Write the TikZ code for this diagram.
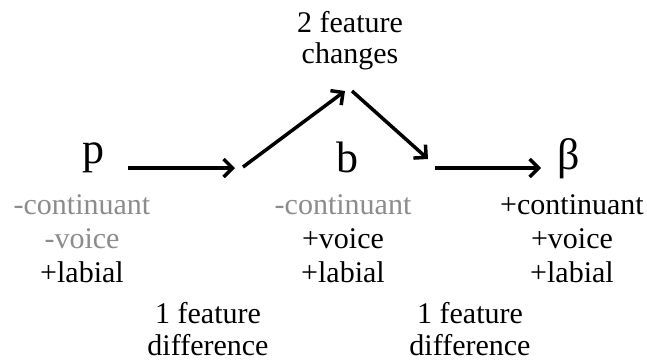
\documentclass[tikz,border=0pt]{standalone}
\usepackage{fontspec}
\setmainfont{Liberation Serif}
\usetikzlibrary{arrows.meta}
\definecolor{featgray}{RGB}{140,140,140}
\begin{document}
\begin{tikzpicture}[x=1pt,y=-1pt,
  lbl/.style={anchor=base, inner sep=0pt, font=\fontsize{30}{34}\selectfont},
  grayt/.style={lbl, text=featgray},
  big/.style={anchor=base, inner sep=0pt, font=\fontsize{44}{48}\selectfont},
  arr/.style={line width=3.5pt, -{Straight Barb[length=9pt,width=18pt]}}]
\fill[white] (0,0) rectangle (647,360);
\useasboundingbox (0,0) rectangle (647,360);

% top label
\node[lbl] (top1) at (350,32) {2 feature};
\node[lbl] (top2) at (350,63) {changes};

% segments
\node[big] (p) at (93,163) {p};
\node[big] (b) at (347,172) {b};
\node[big] (beta) at (569,169) {β};

% features of p
\node[grayt] (pc) at (82,214) {-continuant};
\node[grayt] (pv) at (82,248) {-voice};
\node[lbl]   (pl) at (82,282) {+labial};

% features of b
\node[grayt] (bc) at (343,214) {-continuant};
\node[lbl]   (bv) at (343,248) {+voice};
\node[lbl]   (bl) at (343,282) {+labial};

% features of beta
\node[lbl] (zc) at (572,214) {+continuant};
\node[lbl] (zv) at (572,248) {+voice};
\node[lbl] (zl) at (572,282) {+labial};

% bottom labels
\node[lbl] (l1) at (208,323) {1 feature};
\node[lbl] (l2) at (208,355) {difference};
\node[lbl] (r1) at (470,323) {1 feature};
\node[lbl] (r2) at (470,355) {difference};

% arrow end points
\coordinate (a1s) at (128,168);
\coordinate (a1e) at (235,168);
\coordinate (a2s) at (243,167);
\coordinate (a2e) at (345,91);
\coordinate (a3s) at (352,91);
\coordinate (a3e) at (428,159);
\coordinate (a4s) at (435,168);
\coordinate (a4e) at (541,168);

\draw[arr] (a1s) -- (a1e);
\draw[arr] (a2s) -- (a2e);
\draw[arr] (a3s) -- (a3e);
\draw[arr] (a4s) -- (a4e);
\end{tikzpicture}
\end{document}
